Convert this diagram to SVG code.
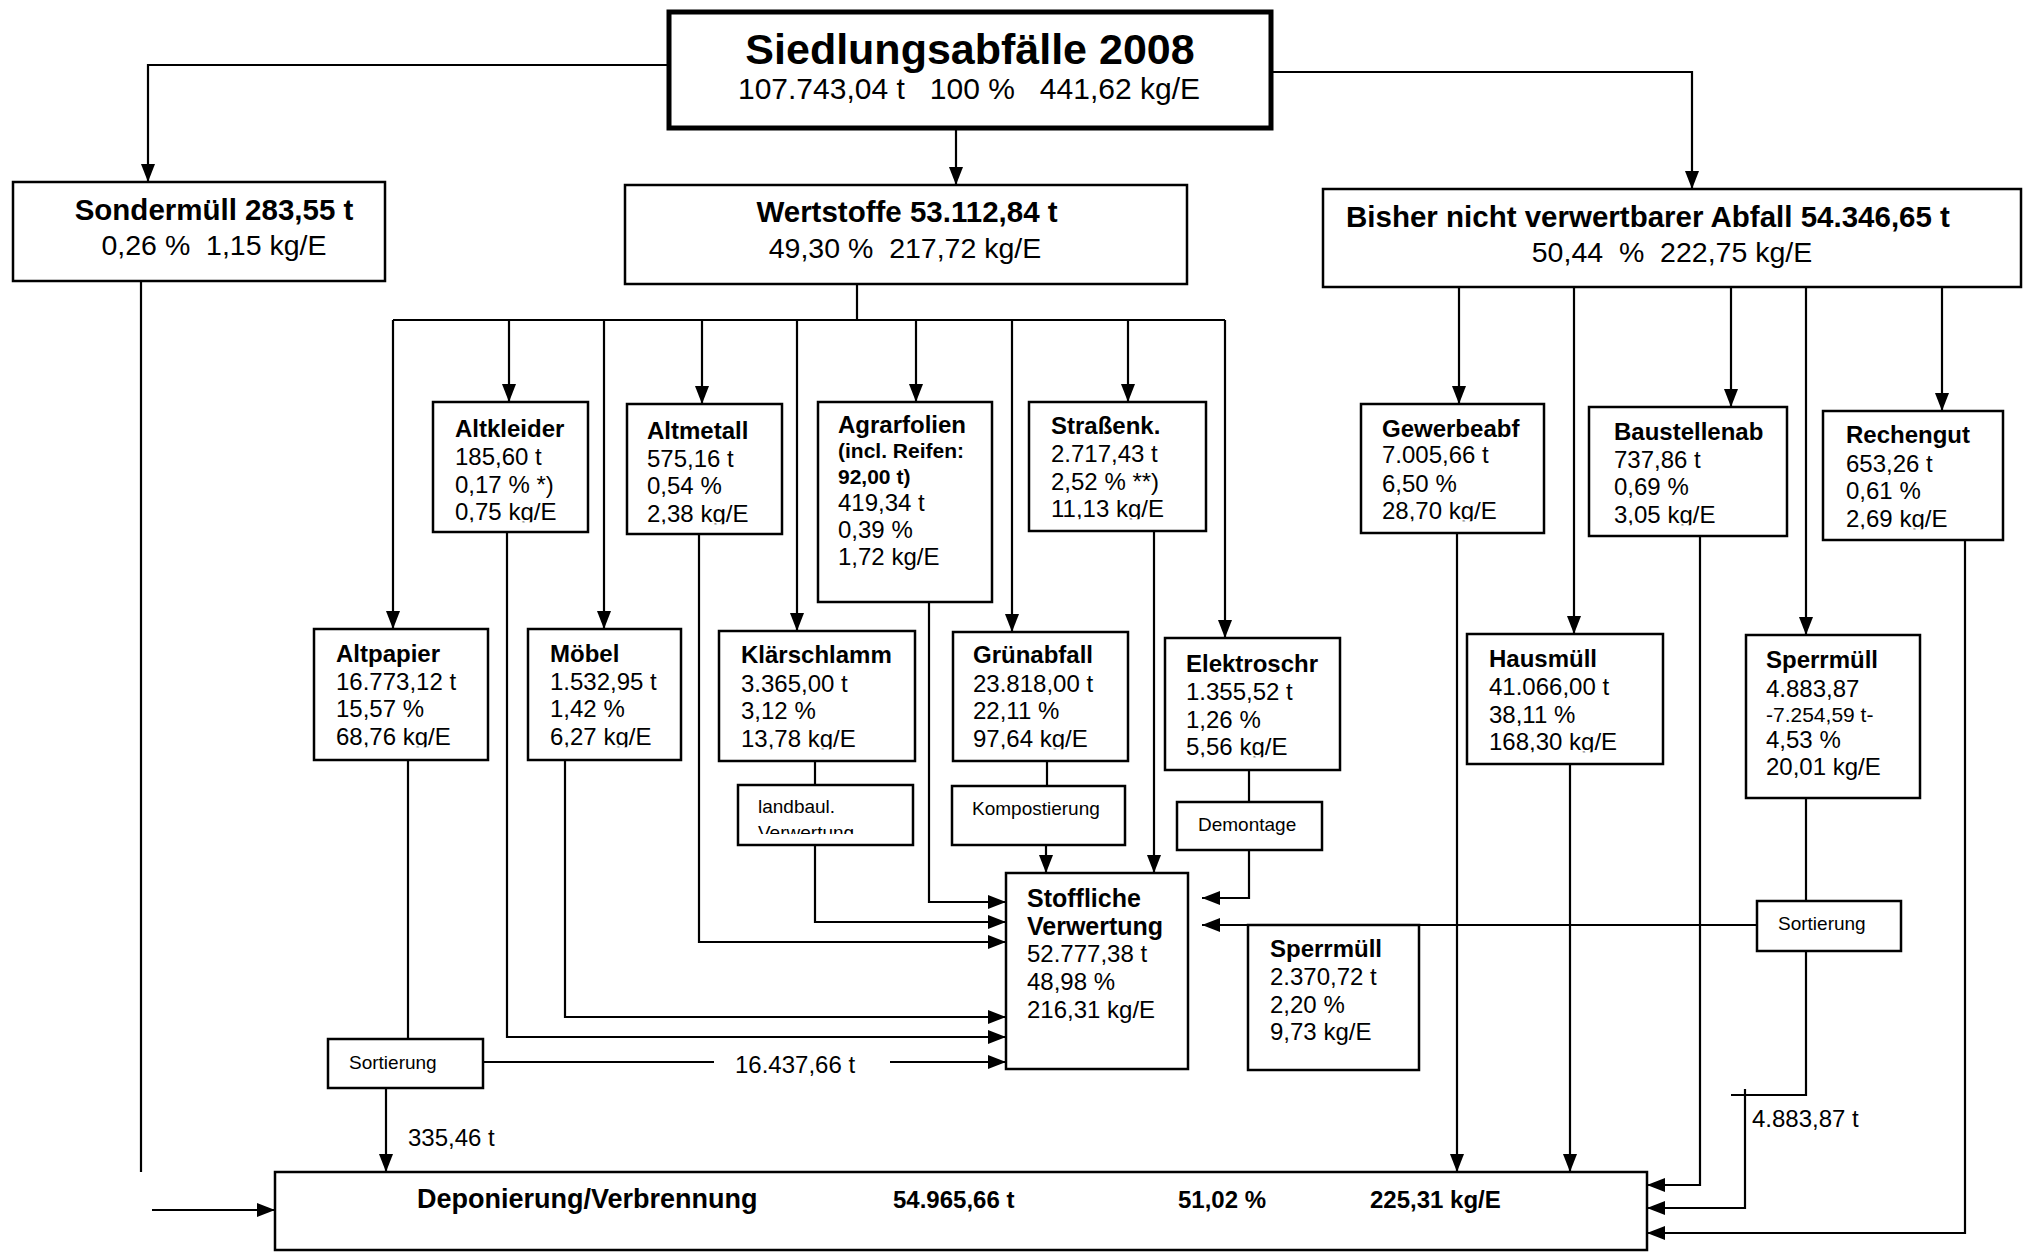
<svg xmlns="http://www.w3.org/2000/svg" width="2026" height="1252" viewBox="0 0 2026 1252">
<defs>
<style>
.bg{fill:#fff}
.box{fill:#fff;stroke:#000;stroke-width:2.5}
.thick{fill:#fff;stroke:#000;stroke-width:5}
.c{fill:none;stroke:#000;stroke-width:2.2}
.a{marker-end:url(#ah)}
text{font-family:"Liberation Sans",Arial,sans-serif;fill:#000}
.t{font-size:24px}
.b{font-weight:bold}
.h{font-size:28.5px}
.hb{font-size:29.5px;font-weight:bold}
.s{font-size:19px}
.m{text-anchor:middle}
.q{clip-path:url(#cq)}
</style>
<marker id="ah" markerUnits="userSpaceOnUse" markerWidth="18" markerHeight="14" refX="18" refY="7" orient="auto" viewBox="0 0 18 14">
<path d="M0,0 L18,7 L0,14 z" fill="#000"/>
</marker>
<clipPath id="cq" clipPathUnits="objectBoundingBox"><rect x="-0.1" y="0" width="1.2" height="0.9"/></clipPath>
<clipPath id="cv"><rect x="740" y="786" width="170" height="48"/></clipPath>
</defs>
<rect class="bg" x="0" y="0" width="2026" height="1252"/>

<g id="connectors">
<path class="c a" d="M667,65 H148 V182"/>
<path class="c a" d="M1273,72 H1692 V189"/>
<path class="c a" d="M956,129 V185"/>
<path class="c" d="M857,284 V320"/>
<path class="c" d="M393,320 H1225"/>
<path class="c a" d="M393,320 V629"/>
<path class="c a" d="M509,320 V402"/>
<path class="c a" d="M604,320 V629"/>
<path class="c a" d="M702,320 V404"/>
<path class="c a" d="M797,320 V631"/>
<path class="c a" d="M916,320 V402"/>
<path class="c a" d="M1012,320 V632"/>
<path class="c a" d="M1128,320 V402"/>
<path class="c a" d="M1225,320 V638"/>
<path class="c a" d="M1459,287 V404"/>
<path class="c a" d="M1574,287 V634"/>
<path class="c a" d="M1731,287 V407"/>
<path class="c a" d="M1806,287 V635"/>
<path class="c a" d="M1942,287 V411"/>
<path class="c" d="M141,280 V1172"/>
<path class="c a" d="M152,1210 H275"/>
<path class="c" d="M408,760 V1039"/>
<path class="c a" d="M386,1088 V1172"/>
<path class="c" d="M483,1062 H714"/>
<path class="c a" d="M890,1062 H1006"/>
<path class="c a" d="M507,532 V1037 H1006"/>
<path class="c a" d="M565,760 V1017 H1006"/>
<path class="c a" d="M699,534 V942 H1006"/>
<path class="c" d="M815,761 V785"/>
<path class="c a" d="M815,845 V922 H1006"/>
<path class="c a" d="M929,602 V902 H1006"/>
<path class="c" d="M1047,761 V786"/>
<path class="c a" d="M1046,845 V873"/>
<path class="c a" d="M1154,531 V873"/>
<path class="c" d="M1249,770 V802"/>
<path class="c a" d="M1249,850 V898 H1202"/>
<path class="c" d="M1806,798 V901"/>
<path class="c a" d="M1757,925 H1202"/>
<path class="c" d="M1806,951 V1095 H1731"/>
<path class="c a" d="M1745,1089 V1208 H1647"/>
<path class="c a" d="M1457,533 V1172"/>
<path class="c a" d="M1570,764 V1172"/>
<path class="c a" d="M1700,536 V1185 H1647"/>
<path class="c a" d="M1965,540 V1233 H1647"/>
<text class="t" x="735" y="1073">16.437,66 t</text>
<text class="t" x="408" y="1146">335,46 t</text>
<text class="t" x="1752" y="1127">4.883,87 t</text>
</g>

<g id="title">
<rect class="thick" x="669" y="12" width="602" height="116"/>
<text class="b m" x="970" y="64" style="font-size:43px">Siedlungsabfälle 2008</text>
<text class="m" x="969" y="99" style="font-size:30px" xml:space="preserve">107.743,04 t   100 %   441,62 kg/E</text>
</g>

<g id="sondermuell">
<rect class="box" x="13" y="182" width="372" height="99"/>
<text class="hb m" x="214" y="220">Sondermüll 283,55 t</text>
<text class="h m" x="214" y="255" xml:space="preserve">0,26 %  1,15 kg/E</text>
</g>

<g id="wertstoffe">
<rect class="box" x="625" y="185" width="562" height="99"/>
<text class="hb m" x="907" y="222">Wertstoffe 53.112,84 t</text>
<text class="h m" x="905" y="258" xml:space="preserve">49,30 %  217,72 kg/E</text>
</g>

<g id="bisher">
<rect class="box" x="1323" y="189" width="698" height="98"/>
<text class="hb m" x="1648" y="227">Bisher nicht verwertbarer Abfall 54.346,65 t</text>
<text class="h m" x="1672" y="262" xml:space="preserve">50,44  %  222,75 kg/E</text>
</g>

<g id="altkleider">
<rect class="box" x="433" y="402" width="155" height="130"/>
<text class="t b" x="455" y="437">Altkleider</text>
<text class="t" x="455" y="465">185,60 t</text>
<text class="t" x="455" y="493">0,17 % *)</text>
<text class="t q" x="455" y="520">0,75 kg/E</text>
</g>

<g id="altmetall">
<rect class="box" x="627" y="404" width="155" height="130"/>
<text class="t b" x="647" y="439">Altmetall</text>
<text class="t" x="647" y="467">575,16 t</text>
<text class="t" x="647" y="494">0,54 %</text>
<text class="t q" x="647" y="522">2,38 kg/E</text>
</g>

<g id="agrarfolien">
<rect class="box" x="818" y="402" width="174" height="200"/>
<text class="t b" x="838" y="433">Agrarfolien</text>
<text class="b" x="838" y="458" style="font-size:21px">(incl. Reifen:</text>
<text class="b" x="838" y="484" style="font-size:21px">92,00 t)</text>
<text class="t" x="838" y="511">419,34 t</text>
<text class="t" x="838" y="538">0,39 %</text>
<text class="t" x="838" y="565">1,72 kg/E</text>
</g>

<g id="strassenk">
<rect class="box" x="1029" y="402" width="177" height="129"/>
<text class="t b" x="1051" y="434">Straßenk.</text>
<text class="t" x="1051" y="462">2.717,43 t</text>
<text class="t" x="1051" y="490">2,52 % **)</text>
<text class="t q" x="1051" y="517">11,13 kg/E</text>
</g>

<g id="gewerbeabf">
<rect class="box" x="1361" y="404" width="183" height="129"/>
<text class="t b" x="1382" y="437">Gewerbeabf</text>
<text class="t" x="1382" y="463">7.005,66 t</text>
<text class="t" x="1382" y="492">6,50 %</text>
<text class="t q" x="1382" y="519">28,70 kg/E</text>
</g>

<g id="baustellenab">
<rect class="box" x="1589" y="407" width="198" height="129"/>
<text class="t b" x="1614" y="440">Baustellenab</text>
<text class="t" x="1614" y="468">737,86 t</text>
<text class="t" x="1614" y="495">0,69 %</text>
<text class="t q" x="1614" y="523">3,05 kg/E</text>
</g>

<g id="rechengut">
<rect class="box" x="1823" y="411" width="180" height="129"/>
<text class="t b" x="1846" y="443">Rechengut</text>
<text class="t" x="1846" y="472">653,26 t</text>
<text class="t" x="1846" y="499">0,61 %</text>
<text class="t q" x="1846" y="527">2,69 kg/E</text>
</g>

<g id="altpapier">
<rect class="box" x="314" y="629" width="174" height="131"/>
<text class="t b" x="336" y="662">Altpapier</text>
<text class="t" x="336" y="690">16.773,12 t</text>
<text class="t" x="336" y="717">15,57 %</text>
<text class="t q" x="336" y="745">68,76 kg/E</text>
</g>

<g id="moebel">
<rect class="box" x="528" y="629" width="153" height="131"/>
<text class="t b" x="550" y="662">Möbel</text>
<text class="t" x="550" y="690">1.532,95 t</text>
<text class="t" x="550" y="717">1,42 %</text>
<text class="t q" x="550" y="745">6,27 kg/E</text>
</g>

<g id="klaerschlamm">
<rect class="box" x="719" y="631" width="196" height="130"/>
<text class="t b" x="741" y="663">Klärschlamm</text>
<text class="t" x="741" y="692">3.365,00 t</text>
<text class="t" x="741" y="719">3,12 %</text>
<text class="t q" x="741" y="747">13,78 kg/E</text>
</g>

<g id="gruenabfall">
<rect class="box" x="953" y="632" width="175" height="129"/>
<text class="t b" x="973" y="663">Grünabfall</text>
<text class="t" x="973" y="692">23.818,00 t</text>
<text class="t" x="973" y="719">22,11 %</text>
<text class="t q" x="973" y="747">97,64 kg/E</text>
</g>

<g id="elektroschr">
<rect class="box" x="1165" y="638" width="175" height="132"/>
<text class="t b" x="1186" y="672">Elektroschr</text>
<text class="t" x="1186" y="700">1.355,52 t</text>
<text class="t" x="1186" y="728">1,26 %</text>
<text class="t q" x="1186" y="755">5,56 kg/E</text>
</g>

<g id="hausmuell">
<rect class="box" x="1467" y="634" width="196" height="130"/>
<text class="t b" x="1489" y="667">Hausmüll</text>
<text class="t" x="1489" y="695">41.066,00 t</text>
<text class="t" x="1489" y="723">38,11 %</text>
<text class="t q" x="1489" y="750">168,30 kg/E</text>
</g>

<g id="sperrmuell">
<rect class="box" x="1746" y="635" width="174" height="163"/>
<text class="t b" x="1766" y="668">Sperrmüll</text>
<text class="t" x="1766" y="697">4.883,87</text>
<text x="1766" y="722" style="font-size:21px">-7.254,59 t-</text>
<text class="t" x="1766" y="748">4,53 %</text>
<text class="t" x="1766" y="775">20,01 kg/E</text>
</g>

<g id="landbaul">
<rect class="box" x="738" y="785" width="175" height="60"/>
<text class="s" x="758" y="813">landbaul.</text>
<text class="s" x="758" y="839" clip-path="url(#cv)">Verwertung</text>
</g>

<g id="kompostierung">
<rect class="box" x="952" y="786" width="173" height="59"/>
<text class="s" x="972" y="815">Kompostierung</text>
</g>

<g id="demontage">
<rect class="box" x="1177" y="802" width="145" height="48"/>
<text class="s" x="1198" y="831">Demontage</text>
</g>

<g id="stoffliche">
<rect class="box" x="1006" y="873" width="182" height="196"/>
<text class="b" x="1027" y="907" style="font-size:25px">Stoffliche</text>
<text class="b" x="1027" y="935" style="font-size:25px">Verwertung</text>
<text class="t" x="1027" y="962">52.777,38 t</text>
<text class="t" x="1027" y="990">48,98 %</text>
<text class="t" x="1027" y="1018">216,31 kg/E</text>
</g>

<g id="sperrmuell2">
<rect class="box" x="1248" y="925" width="171" height="145"/>
<text class="t b" x="1270" y="957">Sperrmüll</text>
<text class="t" x="1270" y="985">2.370,72 t</text>
<text class="t" x="1270" y="1013">2,20 %</text>
<text class="t" x="1270" y="1040">9,73 kg/E</text>
</g>

<g id="sortierung1">
<rect class="box" x="328" y="1039" width="155" height="49"/>
<text class="s" x="349" y="1069">Sortierung</text>
</g>

<g id="sortierung2">
<rect class="box" x="1757" y="901" width="144" height="50"/>
<text class="s" x="1778" y="930">Sortierung</text>
</g>

<g id="deponierung">
<rect class="box" x="275" y="1172" width="1372" height="78"/>
<text class="b" x="417" y="1208" style="font-size:27px">Deponierung/Verbrennung</text>
<text class="t b" x="893" y="1208">54.965,66 t</text>
<text class="t b" x="1178" y="1208">51,02 %</text>
<text class="t b" x="1370" y="1208">225,31 kg/E</text>
</g>
</svg>
